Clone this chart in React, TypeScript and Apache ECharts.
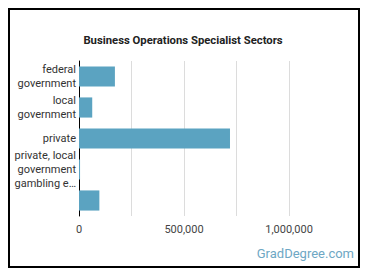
import React, { useEffect, useRef } from "react";
import * as echarts from "echarts";

const categories = [
  "federal\ngovernment",
  "local\ngovernment",
  "private",
  "private, local\ngovernment\ngambling e…",
  "",
];
const values = [171000, 63000, 719000, 5000, 97000];
const xTicks = [0, 500000, 1000000];

export default function App() {
  const ref = useRef<HTMLDivElement>(null);
  useEffect(() => {
    if (!ref.current) return;
    const chart = echarts.init(ref.current, null, { renderer: "svg" });
    chart.setOption({
      animation: false,
      backgroundColor: "#fff",
      title: {
        text: "Business Operations Specialist Sectors",
        left: 178,
        textAlign: "center",
        top: 30,
        textStyle: { fontFamily: "Roboto", fontSize: 11.3, fontWeight: "bold", color: "#222" },
      },
      graphic: [
        {
          type: "rect",
          shape: { x: 9, y: 9, width: 350, height: 258 },
          style: { fill: "none", stroke: "#000", lineWidth: 2 },
          silent: true,
        },
        {
          type: "text",
          right: 16,
          top: 247,
          style: {
            text: "GradDegree.com",
            fill: "#6ea7c4",
            font: "13px Roboto",
          },
        },
      ],
      grid: { left: 79, right: 81, top: 61, bottom: 62, containLabel: false },
      xAxis: {
        type: "value",
        min: 0,
        max: 1000000,
        interval: 250000,
        axisLine: { show: false },
        axisTick: { show: false },
        splitLine: { show: true, lineStyle: { color: "#dcdcdc", width: 1 } },
        axisLabel: {
          margin: 8,
          fontFamily: "Roboto",
          fontSize: 11,
          color: "#444",
          formatter: (v: number) =>
            xTicks.includes(v) ? v.toLocaleString("en-US") : "",
        },
      },
      yAxis: {
        type: "category",
        data: categories,
        inverse: true,
        axisLine: { show: true, lineStyle: { color: "#000", width: 1 } },
        axisTick: { show: false },
        splitLine: { show: false },
        axisLabel: {
          margin: 3,
          fontFamily: "Roboto",
          fontSize: 11,
          lineHeight: 14,
          color: "#333",
          interval: 0,
        },
      },
      series: [
        {
          type: "bar",
          data: values,
          barCategoryGap: "35%",
          itemStyle: { color: "#5ba3c1" },
        },
      ],
    });
    return () => chart.dispose();
  }, []);
  return (
    <div
      ref={ref}
      style={{ position: "absolute", left: 0, top: 0, width: 370, height: 278 }}
    />
  );
}
